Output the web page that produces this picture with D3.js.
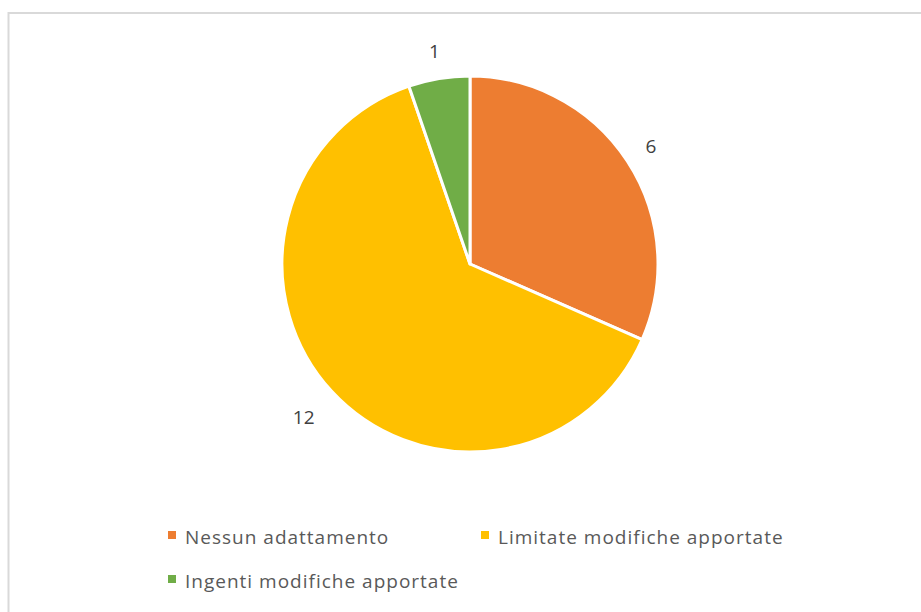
<!DOCTYPE html>
<meta charset="utf-8">
<title>Adattamento</title>
<style>
  body { margin: 0; background: #fff; }
  svg text { font-family: "Open Sans", "Liberation Sans", sans-serif; }
</style>
<div id="viz"></div>
<script src="https://cdnjs.cloudflare.com/ajax/libs/d3/7.8.5/d3.min.js"></script>
<script>

var categories = ["Nessun adattamento", "Limitate modifiche apportate", "Ingenti modifiche apportate"];
var values = [6, 12, 1];
var colors = ["#ed7d31", "#ffc000", "#70ad47"];

var width = 921;
var height = 612;

var svg = d3.select("#viz")
  .append("svg")
  .attr("width", width)
  .attr("height", height);

// chart frame
svg.append("rect")
  .attr("x", 8.5)
  .attr("y", 13)
  .attr("width", 930)
  .attr("height", 620)
  .attr("fill", "#fff")
  .attr("stroke", "#d9d9d9")
  .attr("stroke-width", 2);

var cx = 470, cy = 264, r = 188;

var pie = d3.pie().sort(null).value(function(d) { return d; });
var arc = d3.arc().innerRadius(0).outerRadius(r);
var labelArc = d3.arc().innerRadius(216).outerRadius(216);

var g = svg.append("g").attr("transform", "translate(" + cx + "," + cy + ")");

var slices = pie(values);

g.selectAll("path")
  .data(slices)
  .enter().append("path")
  .attr("d", arc)
  .attr("fill", function(d, i) { return colors[i]; })
  .attr("stroke", "#fff")
  .attr("stroke-width", 3)
  .attr("stroke-linejoin", "round");

g.selectAll("text.lbl")
  .data(slices)
  .enter().append("text")
  .attr("class", "lbl")
  .attr("transform", function(d) {
    var c = labelArc.centroid(d);
    // push wider labels a bit further out, like the office layout does
    var extra = String(d.value).length > 1 ? 10 : 0;
    var a = (d.startAngle + d.endAngle) / 2;
    return "translate(" + (c[0] + Math.sin(a) * extra) + "," + (c[1] - Math.cos(a) * extra) + ")";
  })
  .attr("text-anchor", "middle")
  .attr("dy", "0.35em")
  .attr("font-size", 19)
  .attr("fill", "#404040")
  .text(function(d) { return d.value; });

// legend
var legendPos = [[168, 544], [481, 544], [168, 588]];

var leg = svg.selectAll("g.leg")
  .data(categories)
  .enter().append("g")
  .attr("class", "leg")
  .attr("transform", function(d, i) { return "translate(" + legendPos[i] + ")"; });

leg.append("rect")
  .attr("x", 0)
  .attr("y", -13)
  .attr("width", 8)
  .attr("height", 8)
  .attr("fill", function(d, i) { return colors[i]; });

leg.append("text")
  .attr("x", 17)
  .attr("y", 0)
  .attr("font-size", 19)
  .attr("letter-spacing", 1)
  .attr("fill", "#595959")
  .text(function(d) { return d; });

</script>
